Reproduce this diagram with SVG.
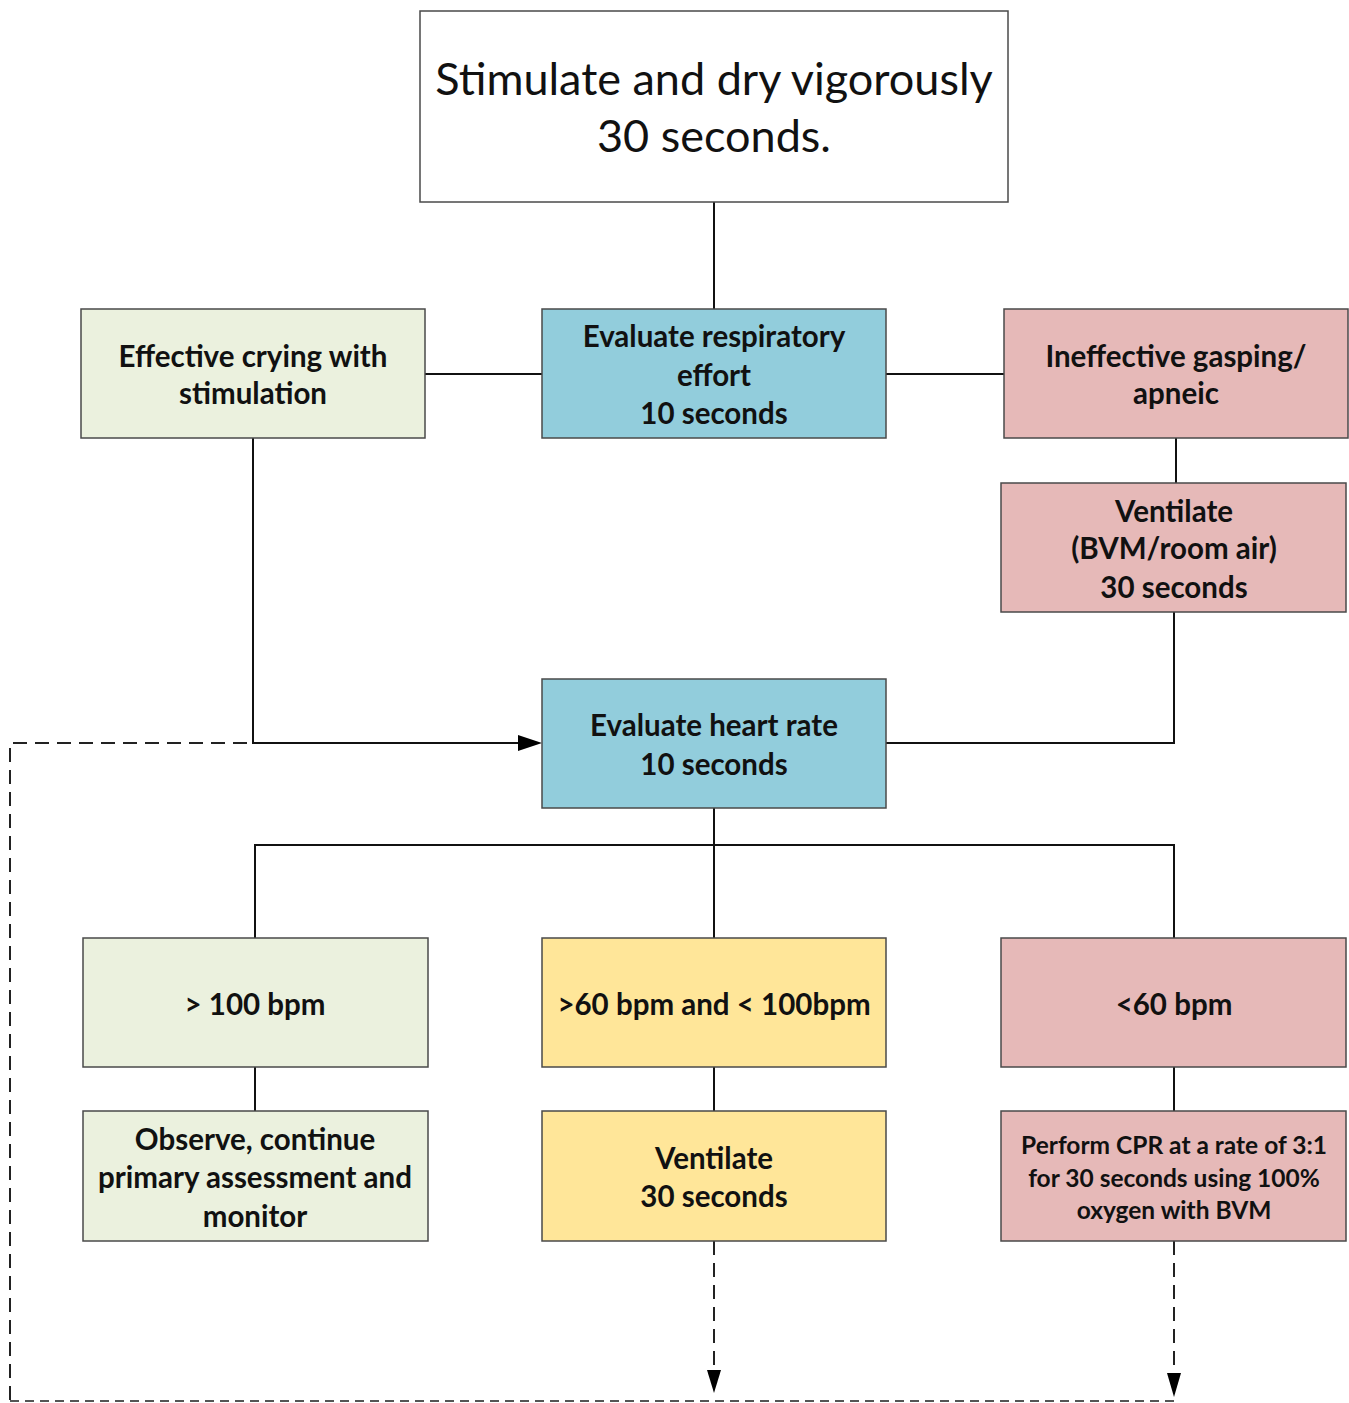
<svg xmlns="http://www.w3.org/2000/svg" width="1349" height="1403" viewBox="0 0 1349 1403">
<style>
.box{stroke:#4a4a4a;stroke-width:1.5}
.w{fill:#ffffff}
.b{fill:#92CDDC}
.g{fill:#EBF1DE}
.p{fill:#E6B9B8}
.y{fill:#FFE699}
.t{font-family:Lato,"Liberation Sans",sans-serif;font-weight:bold;font-size:29.5px;fill:#111;text-anchor:middle;dominant-baseline:central}
.tt{font-family:Lato,"Liberation Sans",sans-serif;font-size:45px;fill:#111;text-anchor:middle;dominant-baseline:central}
.ts{font-family:Lato,"Liberation Sans",sans-serif;font-weight:bold;font-size:24.5px;fill:#111;text-anchor:middle;dominant-baseline:central}
.c{fill:none;stroke:#111;stroke-width:2}
.d{fill:none;stroke:#222;stroke-width:2;stroke-dasharray:14 8}
.d2{fill:none;stroke:#555;stroke-width:2;stroke-dasharray:9 6}
</style>
<rect width="1349" height="1403" fill="#fff"/>
<g id="connectors">
<path class="c" d="M714,202 V309"/>
<path class="c" d="M425,374 H542"/>
<path class="c" d="M886,374 H1004"/>
<path class="c" d="M1176,438 V483"/>
<path class="c" d="M253,438 V743 H518"/>
<path d="M518,735 L542,743 L518,751 z" fill="#000"/>
<path class="c" d="M1174,612 V743 H886"/>
<path class="d" d="M10,1400 V743 H253"/>
<path class="c" d="M714,808 V938"/>
<path class="c" d="M255,938 V845 H1174 V938"/>
<path class="c" d="M255,1067 V1111"/>
<path class="c" d="M714,1067 V1111"/>
<path class="c" d="M1174,1067 V1111"/>
<path class="d" d="M714,1241 V1372"/>
<path d="M707,1370 L714,1393 L721,1370 z" fill="#000"/>
<path class="d" d="M1174,1241 V1375"/>
<path d="M1167,1373 L1174,1397 L1181,1373 z" fill="#000"/>
<path class="d2" d="M10,1401 H1174"/>
</g>
<g id="n-stimulate">
<rect class="box w" x="420" y="11" width="588" height="191"/>
<text class="tt" x="714" y="78">Stimulate and dry vigorously</text>
<text class="tt" x="714" y="135">30 seconds.</text>
</g>
<g id="n-effective">
<rect class="box g" x="81" y="309" width="344" height="129"/>
<text class="t" x="253" y="355">Effective crying with</text>
<text class="t" x="253" y="392">stimulation</text>
</g>
<g id="n-evalresp">
<rect class="box b" x="542" y="309" width="344" height="129"/>
<text class="t" x="714" y="335">Evaluate respiratory</text>
<text class="t" x="714" y="374">effort</text>
<text class="t" x="714" y="412">10 seconds</text>
</g>
<g id="n-ineffective">
<rect class="box p" x="1004" y="309" width="344" height="129"/>
<text class="t" x="1176" y="355">Ineffective gasping/</text>
<text class="t" x="1176" y="392">apneic</text>
</g>
<g id="n-ventbvm">
<rect class="box p" x="1001" y="483" width="345" height="129"/>
<text class="t" x="1174" y="510">Ventilate</text>
<text class="t" x="1174" y="547">(BVM/room air)</text>
<text class="t" x="1174" y="586">30 seconds</text>
</g>
<g id="n-evalhr">
<rect class="box b" x="542" y="679" width="344" height="129"/>
<text class="t" x="714" y="724">Evaluate heart rate</text>
<text class="t" x="714" y="763">10 seconds</text>
</g>
<g id="n-gt100">
<rect class="box g" x="83" y="938" width="345" height="129"/>
<text class="t" x="255" y="1003">&gt; 100 bpm</text>
</g>
<g id="n-60to100">
<rect class="box y" x="542" y="938" width="344" height="129"/>
<text class="t" x="714" y="1003">&gt;60 bpm and &lt; 100bpm</text>
</g>
<g id="n-lt60">
<rect class="box p" x="1001" y="938" width="345" height="129"/>
<text class="t" x="1174" y="1003">&lt;60 bpm</text>
</g>
<g id="n-observe">
<rect class="box g" x="83" y="1111" width="345" height="130"/>
<text class="t" x="255" y="1138">Observe, continue</text>
<text class="t" x="255" y="1176">primary assessment and</text>
<text class="t" x="255" y="1215">monitor</text>
</g>
<g id="n-vent30">
<rect class="box y" x="542" y="1111" width="344" height="130"/>
<text class="t" x="714" y="1157">Ventilate</text>
<text class="t" x="714" y="1195">30 seconds</text>
</g>
<g id="n-cpr">
<rect class="box p" x="1001" y="1111" width="345" height="130"/>
<text class="ts" x="1174" y="1144">Perform CPR at a rate of 3:1</text>
<text class="ts" x="1174" y="1177">for 30 seconds using 100%</text>
<text class="ts" x="1174" y="1209">oxygen with BVM</text>
</g>
</svg>
